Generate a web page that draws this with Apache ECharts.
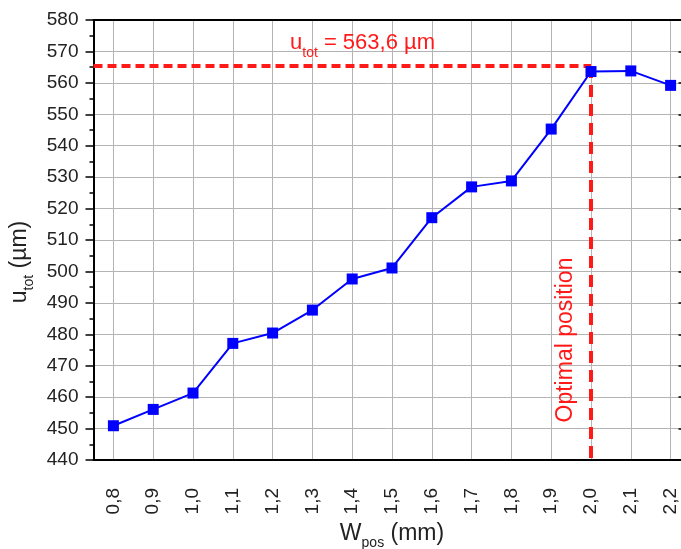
<!DOCTYPE html>
<html>
<head>
<meta charset="utf-8">
<script src="https://cdn.jsdelivr.net/npm/echarts@6/dist/echarts.min.js"></script>
<style>
  html, body { margin: 0; padding: 0; background: #fff; }
  #chart { width: 681px; height: 549px; }
</style>
</head>
<body>
<div id="chart"></div>
<script>
// W_pos (mm) and u_tot (µm)
const wPos = [0.8, 0.9, 1.0, 1.1, 1.2, 1.3, 1.4, 1.5, 1.6, 1.7, 1.8, 1.9, 2.0, 2.1, 2.2];
const uTot = [450.9, 456.1, 461.3, 477.1, 480.4, 487.7, 497.6, 501.1, 517.1, 526.9, 528.8, 545.3, 563.6, 563.8, 559.2];
const wLabels = wPos.map(w => w.toFixed(1).replace('.', ','));

// red guide lines for the optimum
const optimalW = 2.0;
const guideY = 565.4;
const yRange = [440, 580];

const FONT = '"Liberation Sans", Arial, sans-serif';
const RED = '#ff1a1a';
const GRID_COLOR = '#b4b4b4';

const chart = echarts.init(document.getElementById('chart'));

const optIdx = wPos.indexOf(optimalW);
const bandRange = [-0.5, wPos.length - 0.5];

const option = {
  backgroundColor: '#fff',
  animation: false,
  textStyle: { fontFamily: FONT },
  grid: { left: 93.5, right: -9.5, top: 20, bottom: 89, containLabel: false, outerBoundsMode: 'none' },
  xAxis: [
    {
      type: 'category',
      position: 'bottom',
      data: wLabels,
      boundaryGap: true,
      name: '{m|W}{s|pos}{m| (mm)}',
      nameLocation: 'middle',
      nameGap: 62,
      nameTextStyle: {
        color: '#222',
        rich: {
          m: { fontSize: 23, fontFamily: FONT, color: '#222', verticalAlign: 'top', lineHeight: 26 },
          s: { fontSize: 14, fontFamily: FONT, color: '#222', verticalAlign: 'top', padding: [14, 0, 0, 0] }
        }
      },
      axisLine: { onZero: false, lineStyle: { color: '#000', width: 2 } },
      axisTick: { alignWithLabel: true, length: 8, lineStyle: { color: '#000', width: 1.5 } },
      axisLabel: { rotate: 90, margin: 28, fontSize: 19, color: '#222', interval: 0 },
      splitLine: { show: true, alignWithLabel: true, interval: 0, lineStyle: { color: GRID_COLOR, width: 1 } }
    },
    {
      // minor ticks between categories
      type: 'category',
      position: 'bottom',
      data: wLabels,
      boundaryGap: true,
      axisLine: { show: false, onZero: false },
      axisTick: { length: 4, interval: 0, lineStyle: { color: '#000', width: 1.5 } },
      axisLabel: { show: false },
      splitLine: { show: false }
    },
    {
      type: 'category',
      position: 'top',
      data: wLabels,
      boundaryGap: true,
      axisLine: { onZero: false, lineStyle: { color: '#000', width: 2 } },
      axisTick: { inside: true, alignWithLabel: true, interval: 0, length: 8, lineStyle: { color: '#000', width: 1.5 } },
      axisLabel: { show: false },
      splitLine: { show: false }
    },
    {
      // hidden axis in category-index units, for the guide lines
      type: 'value',
      show: false,
      min: bandRange[0],
      max: bandRange[1],
      splitLine: { show: false }
    }
  ],
  yAxis: [
    {
      type: 'value',
      position: 'left',
      min: yRange[0],
      max: yRange[1],
      interval: 10,
      name: '{m|u}{s|tot}{m| (µm)}',
      nameLocation: 'middle',
      nameGap: 54,
      nameTextStyle: {
        color: '#222',
        padding: [0, 0, 0, -44],
        rich: {
          m: { fontSize: 23, fontFamily: FONT, color: '#222', verticalAlign: 'top', lineHeight: 26 },
          s: { fontSize: 14, fontFamily: FONT, color: '#222', verticalAlign: 'top', padding: [14, 0, 0, 0] }
        }
      },
      axisLine: { show: true, onZero: false, lineStyle: { color: '#000', width: 2 } },
      axisTick: { show: true, length: 8, lineStyle: { color: '#000', width: 1.5 } },
      minorTick: { show: true, splitNumber: 2, length: 4, lineStyle: { color: '#000', width: 1.5 } },
      axisLabel: { margin: 15, fontSize: 19, color: '#222' },
      splitLine: { show: true, lineStyle: { color: GRID_COLOR, width: 1 } }
    },
    {
      type: 'value',
      position: 'right',
      min: yRange[0],
      max: yRange[1],
      interval: 10,
      axisLine: { show: true, onZero: false, lineStyle: { color: '#000', width: 2 } },
      axisTick: { show: true, inside: true, length: 12, lineStyle: { color: '#000', width: 1.5 } },
      axisLabel: { show: false },
      splitLine: { show: false }
    }
  ],
  series: [
    {
      name: 'guide-h',
      type: 'line',
      xAxisIndex: 3,
      z: 1,
      symbol: 'none',
      silent: true,
      data: [[bandRange[0], guideY], [optIdx, guideY]],
      lineStyle: { color: RED, width: 4, type: [9, 5] }
    },
    {
      name: 'guide-v',
      type: 'line',
      xAxisIndex: 3,
      z: 1,
      symbol: 'none',
      silent: true,
      data: [[optIdx, guideY], [optIdx, yRange[0]]],
      lineStyle: { color: RED, width: 4, type: [12, 7] }
    },
    {
      name: 'u_tot',
      type: 'line',
      xAxisIndex: 0,
      z: 3,
      symbol: 'rect',
      symbolSize: 11,
      data: uTot,
      lineStyle: { color: '#0000ff', width: 2 },
      itemStyle: { color: '#0000ff' }
    }
  ],
  graphic: [
    {
      type: 'text',
      left: 290,
      top: 32,
      z: 10,
      style: {
        text: '{m|u}{s|tot}{m| = 563,6 µm}',
        fill: RED,
        rich: {
          m: { fontSize: 22, fontFamily: FONT, fill: RED, verticalAlign: 'top', lineHeight: 26 },
          s: { fontSize: 14, fontFamily: FONT, fill: RED, verticalAlign: 'top', padding: [14, 0, 0, 0] }
        }
      }
    },
    {
      type: 'text',
      x: 566,
      y: 340,
      rotation: Math.PI / 2,
      z: 10,
      style: {
        text: 'Optimal position',
        fontSize: 23,
        fontFamily: FONT,
        fill: RED,
        align: 'center',
        verticalAlign: 'middle'
      }
    }
  ]
};

chart.setOption(option);
</script>
</body>
</html>
